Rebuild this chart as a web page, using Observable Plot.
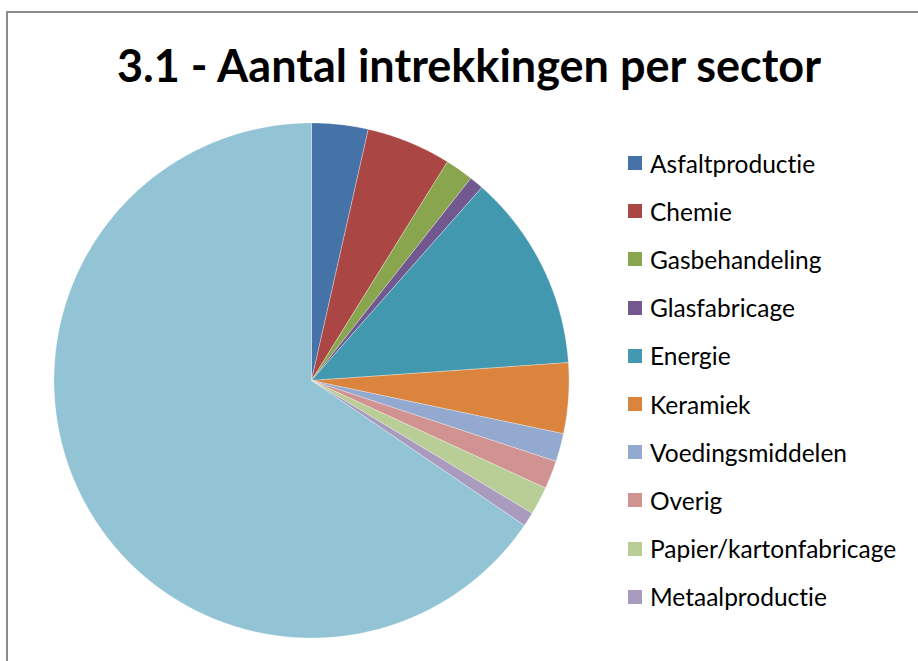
<!DOCTYPE html>
<html>
<head>
<meta charset="utf-8">
<script src="https://cdn.jsdelivr.net/npm/d3@7"></script>
<script src="https://cdn.jsdelivr.net/npm/@observablehq/plot@0.6"></script>
<style>
  html, body { margin: 0; padding: 0; background: #fff; }
  #wrap { position: relative; width: 918px; height: 661px; overflow: hidden; background: #fff; }
  #frame { position: absolute; left: 6px; top: 11px; width: 1000px; height: 1000px; border-left: 2px solid #8c8c8c; border-top: 2px solid #8c8c8c; box-sizing: border-box; }
  #title { position: absolute; left: 0; width: 938px; top: 43px; line-height: 1; text-align: center; font-family: Lato, "Open Sans", sans-serif; font-weight: bold; font-size: 45px; color: #000; white-space: nowrap; font-variant-ligatures: none; }
  #chart { position: absolute; left: 0; top: 0; }
  #legend { position: absolute; left: 628px; top: 139px; font-family: Lato, "Open Sans", sans-serif; font-size: 24.5px; color: #000; font-variant-ligatures: none; }
  .row { height: 48.2px; display: flex; align-items: center; }
  .sw { width: 14px; height: 14px; margin-right: 8px; flex: none; }
</style>
</head>
<body>
<div id="wrap">
  <div id="frame"></div>
  <div id="chart"></div>
  <div id="title"></div>
  <div id="legend"></div>
</div>
<script>
const titleText = "3.1 - Aantal intrekkingen per sector";
const sectors = ["Asfaltproductie", "Chemie", "Gasbehandeling", "Glasfabricage", "Energie", "Keramiek", "Voedingsmiddelen", "Overig", "Papier/kartonfabricage", "Metaalproductie", "Overige sectoren"];
const counts = [4, 6, 2, 1, 14, 5, 2, 2, 2, 1, 74];
const colors = ["#4572A7", "#AA4643", "#89A54E", "#71588F", "#4198AF", "#DB843D", "#93A9CF", "#D19392", "#B9CD96", "#A99BBD", "#93C4D5"];
const legendSectors = sectors.slice(0, 10);

document.getElementById("title").textContent = titleText;

const data = sectors.map((s, i) => ({sector: s, value: counts[i]}));
const arcs = d3.pie().sort(null).value(d => d.value).startAngle(0).endAngle(2 * Math.PI)(data);
const pts = [];
for (const a of arcs) {
  const s = a.data.sector;
  pts.push({sector: s, x: 0, y: 0});
  const n = Math.max(2, Math.ceil((a.endAngle - a.startAngle) / 0.005));
  for (let k = 0; k <= n; k++) {
    const t = a.startAngle + (a.endAngle - a.startAngle) * k / n;
    pts.push({sector: s, x: Math.sin(t), y: Math.cos(t)});
  }
  pts.push({sector: s, x: 0, y: 0});
}

const cx = 311, cy = 380, r = 257.5;
const W = 918, H = 661;
const chart = Plot.plot({
  width: W,
  height: H,
  marginLeft: cx - r,
  marginRight: W - (cx + r),
  marginTop: cy - r,
  marginBottom: H - (cy + r),
  x: {domain: [-1, 1], axis: null},
  y: {domain: [-1, 1], axis: null},
  color: {domain: sectors, range: colors},
  style: {background: "transparent", overflow: "visible"},
  marks: [
    Plot.line(pts, {x: "x", y: "y", z: "sector", fill: "sector", stroke: "#ffffff", strokeWidth: 0.6, strokeOpacity: 0.5, curve: "linear"})
  ]
});
document.getElementById("chart").appendChild(chart);

const leg = document.getElementById("legend");
legendSectors.forEach((s, i) => {
  const row = document.createElement("div");
  row.className = "row";
  const sw = document.createElement("div");
  sw.className = "sw";
  sw.style.background = colors[sectors.indexOf(s)];
  const lab = document.createElement("span");
  lab.textContent = s;
  row.appendChild(sw);
  row.appendChild(lab);
  leg.appendChild(row);
});
</script>
</body>
</html>
